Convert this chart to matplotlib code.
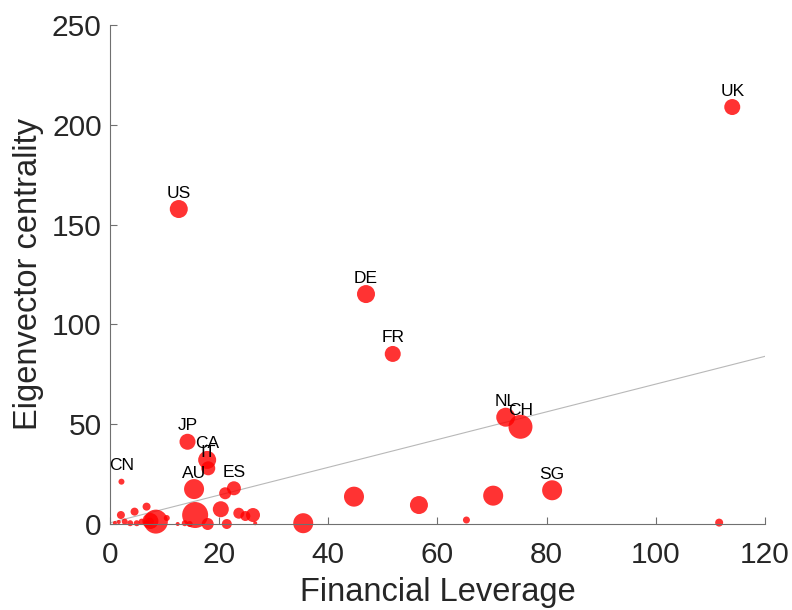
import matplotlib
matplotlib.use("Agg")
from matplotlib import pyplot as plt
import numpy as np

# -- Data ---------------------------------------------------------------------

# labelled countries
labels = ["UK", "US", "DE", "FR", "NL", "CH", "SG", "JP", "CA", "IT", "AU", "ES", "CN"]
lab_leverage = [114.0, 12.6, 46.9, 51.8, 72.5, 75.2, 81.0, 14.2, 17.8, 18.0, 15.4, 22.7, 2.1]
lab_centrality = [208.9, 157.8, 115.2, 85.2, 53.5, 48.7, 16.9, 41.2, 32.1, 27.9, 17.5, 17.9, 21.2]
lab_weight = [8, 9, 9, 8, 9.5, 12, 10, 8, 9, 7, 10, 7, 3]

# the rest
oth_leverage = [35.4, 44.7, 56.6, 65.3, 70.2, 111.6, 21.1, 15.6, 20.3, 23.6,
                24.8, 26.2, 26.6, 17.9, 21.4, 8.4, 7.4, 10.4, 12.4, 13.7, 14.6,
                2.0, 4.5, 6.7, 2.7, 3.7, 4.9, 5.8, 6.7, 7.3, 0.9, 1.6]
oth_centrality = [0.4, 13.7, 9.5, 2.0, 14.2, 0.7, 15.4, 4.5, 7.4, 5.4,
                  4.0, 4.5, 0.4, 0.0, 0.0, 1.2, 1.5, 3.0, 0.0, 0.4, 0.0,
                  4.5, 6.2, 8.7, 1.2, 0.4, 0.4, 1.2, 0.4, 1.2, 0.5, 1.0]
oth_weight = [10, 10, 9, 3.5, 10, 4, 6, 13, 8, 5.5,
              5, 7, 2, 6, 5, 12, 8, 3, 2, 3, 3,
              4, 4, 4, 3, 3, 3, 3, 3, 4, 2, 2]

# fitted line end points
fit_x = [0, 120]
fit_y = [0.6, 84.0]

# -- Figure ---------------------------------------------------------------------

plt.rcParams["font.family"] = ["Liberation Sans", "DejaVu Sans"]

fig = plt.figure(figsize=(7.92, 6.10), dpi=100)
ax = fig.add_axes((110 / 792, 86 / 610, 655 / 792, 499 / 610))

red = (1.0, 0.0, 0.0, 0.8)


def area(w):
    # weight -> marker area (pt^2)
    return (1.44 * np.asarray(w)) ** 2


ax.plot(fit_x, fit_y, color="#b8b8b8", lw=0.8, zorder=1)
ax.scatter(oth_leverage, oth_centrality, s=area(oth_weight), color=red,
           edgecolors="none", zorder=2, clip_on=False)
ax.scatter(lab_leverage, lab_centrality, s=area(lab_weight), color=red,
           edgecolors="none", zorder=2, clip_on=False)

for name, xx, yy in zip(labels, lab_leverage, lab_centrality):
    ax.annotate(name, (xx, yy), xytext=(0, 11.5), textcoords="offset points",
                ha="center", va="center", fontsize=12.5, color="black", zorder=3)

ax.set_xlim(0, 120)
ax.set_ylim(0, 250)
ax.set_xticks(np.arange(0, 121, 20))
ax.set_yticks(np.arange(0, 251, 50))

for side in ["top", "right"]:
    ax.spines[side].set_visible(False)
for side in ["left", "bottom"]:
    ax.spines[side].set_color("#707070")
    ax.spines[side].set_linewidth(0.8)

ax.tick_params(direction="in", length=5, width=0.8, color="#707070",
               labelsize=21.5, labelcolor="#262626")
ax.tick_params(axis="x", pad=12)
ax.tick_params(axis="y", pad=6)

ax.set_xlabel("Financial Leverage", fontsize=23.5, color="#262626", labelpad=6)
ax.set_ylabel("Eigenvector centrality", fontsize=23.5, color="#262626", labelpad=6)

fig.savefig("out.png", dpi=100)
